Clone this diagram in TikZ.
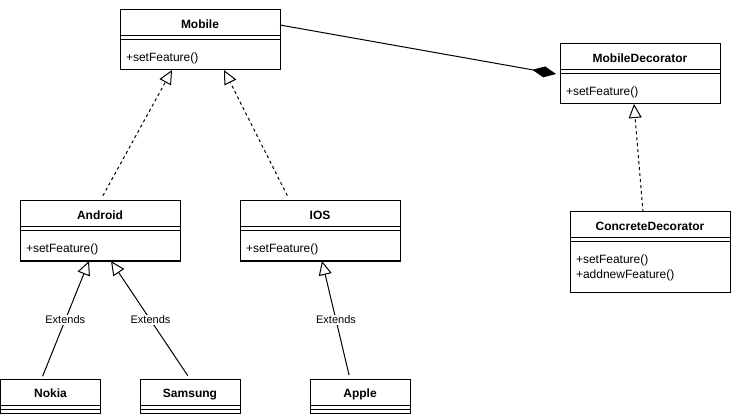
\documentclass[tikz,border=0pt]{standalone}
\usepackage{fontspec}
\setmainfont{Liberation Sans}
\usetikzlibrary{positioning,arrows.meta}

\begin{document}
\begin{tikzpicture}[x=1pt, y=-1pt, line width=1pt,
    every node/.style={outer sep=0pt},
    classname/.style={draw, anchor=north west, minimum width=#1, minimum height=26pt, inner sep=0pt,
        text height=11pt, text depth=0pt, font=\bfseries\fontsize{12}{14}\selectfont},
    classname/.default=160pt,
    classgap/.style={draw, minimum width=#1, minimum height=4pt, inner sep=0pt},
    classgap/.default=160pt,
    classops/.style={draw, text width=148pt, align=left, inner xsep=6pt, inner ysep=0pt,
        text height=22pt, text depth=#1, font=\fontsize{12}{14}\selectfont},
    classops/.default=8pt,
    extends/.style={-{Triangle[open, length=14pt, width=13pt]}},
    realize/.style={extends, dash pattern=on 3pt off 3pt},
    lbl/.style={fill=white, inner sep=1pt, font=\fontsize{11}{13}\selectfont}]
    \useasboundingbox (0,0) rectangle (731,414);

    \node[classname] (mobile) at (120,10) {Mobile};
    \node[classgap, below=0pt of mobile] (mobilegap) {};
    \node[classops, below=0pt of mobilegap] (mobileops) {+setFeature()};

    \node[classname] (mobdec) at (560,44) {MobileDecorator};
    \node[classgap, below=0pt of mobdec] (mobdecgap) {};
    \node[classops, below=0pt of mobdecgap] (mobdecops) {+setFeature()};

    \node[classname] (android) at (20,201) {Android};
    \node[classgap, below=0pt of android] (androidgap) {};
    \node[classops, below=0pt of androidgap] (androidops) {+setFeature()};

    \node[classname] (ios) at (240,201) {IOS};
    \node[classgap, below=0pt of ios] (iosgap) {};
    \node[classops, below=0pt of iosgap] (iosops) {+setFeature()};

    \node[classname] (concdec) at (570,212) {ConcreteDecorator};
    \node[classgap, below=0pt of concdec] (concdecgap) {};
    \node[classops=28pt, below=0pt of concdecgap] (concdecops) {+setFeature()\\+addnewFeature()};

    \node[classname=100pt] (nokia) at (0.5,379) {Nokia};
    \node[classgap=100pt, below=0pt of nokia] (nokiagap) {};
    \node[classgap=100pt, below=0pt of nokiagap] (nokiaops) {};

    \node[classname=100pt] (samsung) at (140,379) {Samsung};
    \node[classgap=100pt, below=0pt of samsung] (samsunggap) {};
    \node[classgap=100pt, below=0pt of samsunggap] (samsungops) {};

    \node[classname=100pt] (apple) at (310,379) {Apple};
    \node[classgap=100pt, below=0pt of apple] (applegap) {};
    \node[classgap=100pt, below=0pt of applegap] (appleops) {};

    \draw[realize, shorten <=6pt] (android.north) -- ([xshift=52pt]mobileops.south west);
    \draw[realize, shorten <=6pt] ([xshift=-30pt]ios.north) -- ([xshift=104pt]mobileops.south west);
    \draw[realize] ([xshift=-7pt]concdec.north) -- ([xshift=74pt]mobdecops.south west);
    \draw[extends, shorten <=3pt] ([xshift=-9pt]nokia.north) -- node[lbl] {Extends} ([xshift=69pt]androidops.south west);
    \draw[extends, shorten <=4pt] (samsung.north) -- node[lbl] {Extends} ([xshift=91pt]androidops.south west);
    \draw[extends, shorten <=4pt] ([xshift=-10pt]apple.north) -- node[lbl] {Extends} ([xshift=82pt]iosops.south west);
    \draw[-{Diamond[length=24pt, width=11pt]}] ([yshift=-2pt]mobile.east) -- ([xshift=-4pt]mobdecops.north west);
\end{tikzpicture}
\end{document}
